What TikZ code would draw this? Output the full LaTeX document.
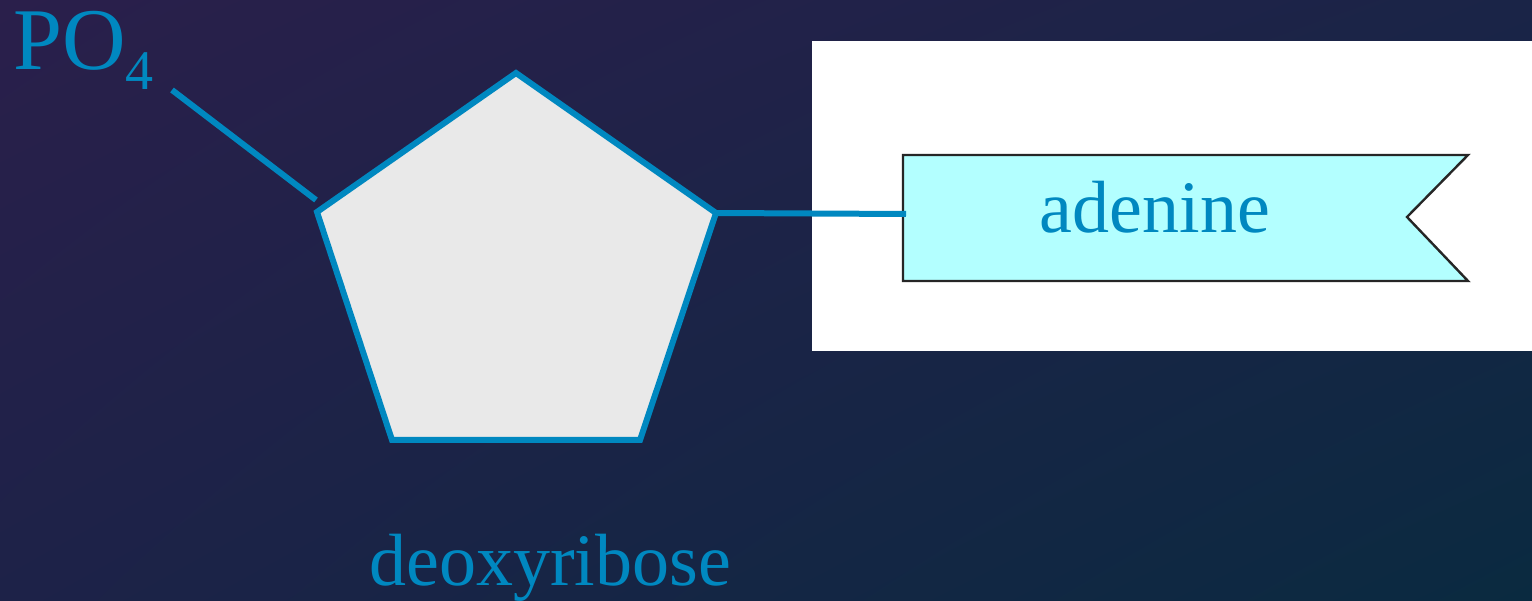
\documentclass[tikz,border=0pt]{standalone}
\usepackage{fontspec}
\setmainfont{Liberation Serif}
\usetikzlibrary{shadings}
\definecolor{bluel}{HTML}{0088C0}
\definecolor{sugar}{HTML}{E9E9E9}
\definecolor{banner}{HTML}{B3FFFF}
\definecolor{bgUL}{HTML}{2A1F4B}
\definecolor{bgUR}{HTML}{1A2447}
\definecolor{bgLL}{HTML}{1D2248}
\definecolor{bgLR}{HTML}{0A2A40}
\tikzset{
  bond/.style={draw=bluel, line width=6pt},
  lbl/.style={text=bluel, inner sep=0pt},
}
\begin{document}
\begin{tikzpicture}[x=1pt,y=-1pt]
\useasboundingbox (0,0) rectangle (1532,601);
\shade[upper left=bgUL, upper right=bgUR, lower left=bgLL, lower right=bgLR] (0,0) rectangle (1532,601);
% white panel
\fill[white] (812,41) rectangle (1532,351);
% banner
\draw[fill=banner, draw=black!85, line width=2.4pt, line join=miter]
  (903,155) -- (1468,155) -- (1407,217) -- (1468,281) -- (903,281) -- cycle;
\coordinate (bannerL) at (906,214);
\node[lbl, font=\fontsize{74}{74}\selectfont, anchor=base] (adenine) at (1155,233) {adenine};
% pentagon
\coordinate (p1) at (516,73);
\coordinate (p2) at (716,213);
\coordinate (p3) at (640,440);
\coordinate (p4) at (392,440);
\coordinate (p5) at (317,212);
\draw[bond, fill=sugar, line join=miter] (p1) -- (p2) -- (p3) -- (p4) -- (p5) -- cycle;
% labels
\node[lbl, font=\fontsize{88}{88}\selectfont, anchor=base west] (po4) at (13,70) {PO{\fontsize{56}{56}\selectfont\raisebox{-20pt}{4}}};
\coordinate (poend) at (172,90);
\coordinate (pocon) at (316,200);
\draw[bond] (poend) -- (pocon);
\draw[bond] (p2) -- (bannerL);
\node[lbl, font=\fontsize{74}{74}\selectfont, anchor=base] (deoxy) at (550,585) {deoxyribose};
\end{tikzpicture}
\end{document}
